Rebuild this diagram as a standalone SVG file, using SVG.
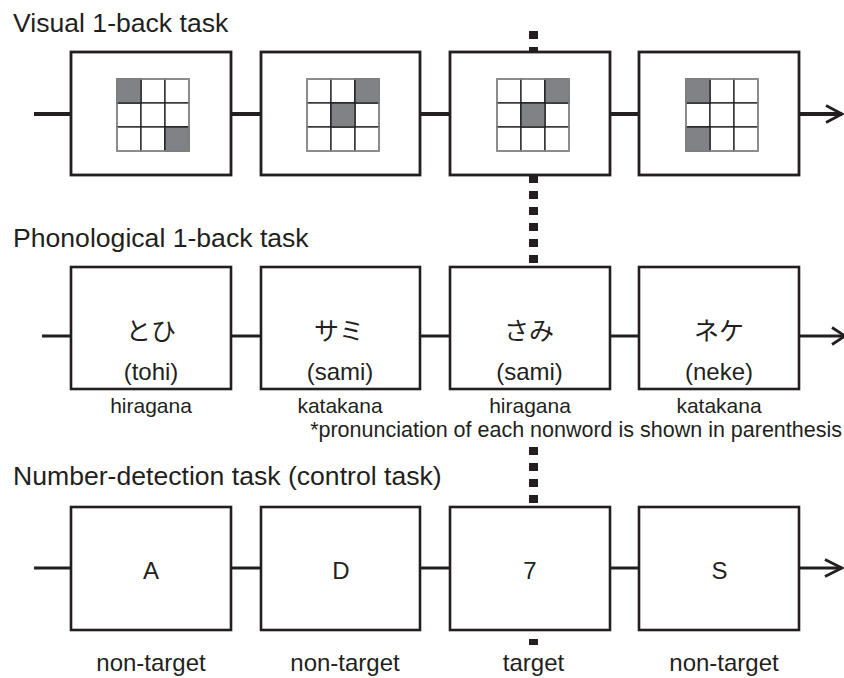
<svg xmlns="http://www.w3.org/2000/svg" width="844" height="678" viewBox="0 0 844 678">
<style>
  text { font-family: "Liberation Sans", Arial, sans-serif; fill: #231f20; }
  .title { font-size: 26.6px; }
  .kana { font-family: "Noto Sans CJK JP", "Noto Sans CJK SC", sans-serif; font-size: 25px; text-anchor: middle; }
  .pron { font-size: 24px; text-anchor: middle; }
  .script { font-size: 21px; text-anchor: middle; }
  .lab { font-size: 24px; text-anchor: middle; }
  .box1 { fill: #fff; stroke: #231f20; stroke-width: 2.8; }
  .box { fill: #fff; stroke: #231f20; stroke-width: 2.6; }
  .c1 { fill: none; stroke: #231f20; stroke-width: 3.8; }
  .c { fill: none; stroke: #231f20; stroke-width: 2.8; }
  .cell { fill: #fff; stroke: #231f20; stroke-width: 1.3; }
  .on { fill: #808285; }
  .gout { fill: none; stroke: #9a9a9a; stroke-width: 1.4; }
  .dash { stroke: #231f20; stroke-width: 9; stroke-dasharray: 8 8; }
</style>
<defs>
  <g id="grid">
    <rect class="cell" x="0" y="0" width="24" height="24"/>
    <rect class="cell" x="24" y="0" width="24" height="24"/>
    <rect class="cell" x="48" y="0" width="24" height="24"/>
    <rect class="cell" x="0" y="24" width="24" height="24"/>
    <rect class="cell" x="24" y="24" width="24" height="24"/>
    <rect class="cell" x="48" y="24" width="24" height="24"/>
    <rect class="cell" x="0" y="48" width="24" height="24"/>
    <rect class="cell" x="24" y="48" width="24" height="24"/>
    <rect class="cell" x="48" y="48" width="24" height="24"/>
  </g>
</defs>

<!-- titles -->
<text class="title" x="13" y="32">Visual 1-back task</text>
<text class="title" x="13" y="247">Phonological 1-back task</text>
<text class="title" x="13" y="485">Number-detection task (control task)</text>

<!-- target marker (dotted line) -->
<g id="target-line">
  <line class="dash" x1="533.5" y1="31" x2="533.5" y2="53"/>
  <line class="dash" x1="533.5" y1="175" x2="533.5" y2="267"/>
  <line class="dash" x1="533.5" y1="447" x2="533.5" y2="507"/>
  <line class="dash" x1="533.5" y1="623" x2="533.5" y2="645"/>
</g>

<!-- connectors -->
<g id="connectors">
  <path class="c1" d="M34,114 H71 M231,114 H261 M420,114 H450 M610,114 H639 M799,114 H842"/>
  <polyline class="c" points="826,105.5 842,114 826,122.5"/>
  <path class="c" d="M42,336 H71 M231,336 H261 M420,336 H450 M610,336 H639 M799,336 H845"/>
  <polyline class="c" points="832,327.5 845,336 832,344.5"/>
  <path class="c" d="M34,568 H71 M231,568 H261 M420,568 H450 M610,568 H639 M799,568 H842"/>
  <polyline class="c" points="825,559.5 842,568 825,576.5"/>
</g>

<!-- visual 1-back row -->
<g id="v1">
  <rect class="box1" x="71" y="52" width="160" height="123"/>
  <use href="#grid" x="117" y="79"/>
  <rect class="on cell" x="117" y="79" width="24" height="24"/>
  <rect class="on cell" x="165" y="127" width="24" height="24"/>
  <rect class="gout" x="117" y="79" width="72" height="72"/>
</g>
<g id="v2">
  <rect class="box1" x="261" y="52" width="159" height="123"/>
  <use href="#grid" x="307" y="79"/>
  <rect class="on cell" x="355" y="79" width="24" height="24"/>
  <rect class="on cell" x="331" y="103" width="24" height="24"/>
  <rect class="gout" x="307" y="79" width="72" height="72"/>
</g>
<g id="v3">
  <rect class="box1" x="450" y="52" width="160" height="123"/>
  <use href="#grid" x="497" y="79"/>
  <rect class="on cell" x="545" y="79" width="24" height="24"/>
  <rect class="on cell" x="521" y="103" width="24" height="24"/>
  <rect class="gout" x="497" y="79" width="72" height="72"/>
</g>
<g id="v4">
  <rect class="box1" x="639" y="52" width="160" height="123"/>
  <use href="#grid" x="686" y="79"/>
  <rect class="on cell" x="686" y="79" width="24" height="24"/>
  <rect class="on cell" x="686" y="127" width="24" height="24"/>
  <rect class="gout" x="686" y="79" width="72" height="72"/>
</g>

<!-- phonological row -->
<g id="p1">
  <rect class="box" x="71" y="267" width="160" height="122"/>
  <text class="kana" x="151" y="340">とひ</text>
  <text class="pron" x="151" y="380">(tohi)</text>
  <text class="script" x="151" y="413">hiragana</text>
</g>
<g id="p2">
  <rect class="box" x="261" y="267" width="159" height="122"/>
  <text class="kana" x="339" y="340">サミ</text>
  <text class="pron" x="340" y="380">(sami)</text>
  <text class="script" x="340" y="413">katakana</text>
</g>
<g id="p3">
  <rect class="box" x="450" y="267" width="160" height="122"/>
  <text class="kana" x="529" y="340">さみ</text>
  <text class="pron" x="529.5" y="380">(sami)</text>
  <text class="script" x="530" y="413">hiragana</text>
</g>
<g id="p4">
  <rect class="box" x="639" y="267" width="160" height="122"/>
  <text class="kana" x="719" y="340">ネケ</text>
  <text class="pron" x="719" y="380">(neke)</text>
  <text class="script" x="719" y="413">katakana</text>
</g>
<text id="note" x="842" y="437" style="font-size:21.5px;text-anchor:end">*pronunciation of each nonword is shown in parenthesis</text>

<!-- number-detection row -->
<g id="n1">
  <rect class="box" x="71" y="507" width="160" height="123"/>
  <text class="lab" x="151" y="579">A</text>
  <text class="lab" x="151" y="671">non-target</text>
</g>
<g id="n2">
  <rect class="box" x="261" y="507" width="159" height="123"/>
  <text class="lab" x="341" y="579">D</text>
  <text class="lab" x="345" y="671">non-target</text>
</g>
<g id="n3">
  <rect class="box" x="450" y="507" width="160" height="123"/>
  <text class="lab" x="530" y="579">7</text>
  <text class="lab" x="533.5" y="671">target</text>
</g>
<g id="n4">
  <rect class="box" x="639" y="507" width="160" height="123"/>
  <text class="lab" x="719.5" y="579">S</text>
  <text class="lab" x="724" y="671">non-target</text>
</g>
</svg>
